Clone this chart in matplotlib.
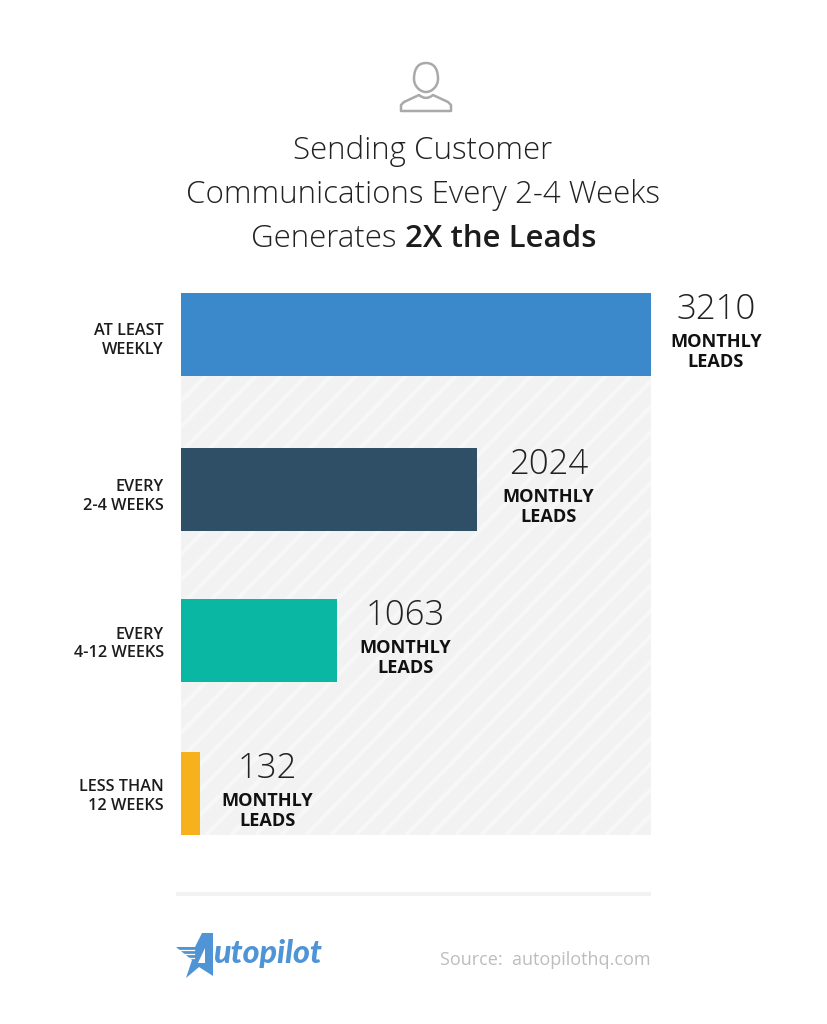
import matplotlib
matplotlib.use('Agg')
import matplotlib.pyplot as plt
from matplotlib.collections import LineCollection
from matplotlib.patches import PathPatch, Polygon
from matplotlib.path import Path

W, H = 827, 1024

categories = ['AT LEAST\nWEEKLY', 'EVERY\n2-4 WEEKS', 'EVERY\n4-12 WEEKS', 'LESS THAN\n12 WEEKS']
leads = [3210, 2024, 1063, 132]
bar_colors = ['#3b89ca', '#2e4f66', '#0ab7a2', '#f6b11c']

# rows are not quite evenly spaced in the original
rows = [0, 1.013, 2, 3]
label_offsets = [65, 71, 69, 67]
cat_shifts = [6, 7, 3.5, 3]

FONT = 'Open Sans'
plt.rcParams['font.family'] = [FONT, 'DejaVu Sans']

fig = plt.figure(figsize=(W / 100, H / 100), dpi=100, facecolor='white')

# overlay in pixel coordinates for the header and footer
bg = fig.add_axes([0, 0, 1, 1])
bg.set_xlim(0, W)
bg.set_ylim(H, 0)
bg.axis('off')

ax = fig.add_axes([181 / W, 1 - 835 / H, 470 / W, 542 / H])
ax.set_facecolor('#f2f2f2')
ax.set_xlim(0, 3210)
ax.set_ylim(3.271, -0.271)
ax.barh(rows, leads, height=0.5425, color=bar_colors, zorder=3)
for s in ax.spines.values():
    s.set_visible(False)
ax.set_xticks([])
ax.set_yticks([])

# pale diagonal stripes behind the bars
stripes = []
for i in range(-24, 42):
    x0 = 181 + i * 25
    stripes.append([(x0, 835), (x0 + 542 * 0.98, 293)])
lc = LineCollection(stripes, colors='#f6f7f7', linewidths=3, transform=bg.transData, zorder=1)
ax.add_collection(lc, autolim=False)
lc.set_clip_path(ax.patch)

for y, cat, val, off, shift in zip(rows, categories, leads, label_offsets, cat_shifts):
    ax.annotate(cat, (0, y), xytext=(-12.4, -shift * 0.72), textcoords='offset points',
                ha='right', va='center', fontsize=11.7, fontweight=600,
                color='#1c1c1c', linespacing=1.2, annotation_clip=False)
    ax.annotate(str(val), (val, y), xytext=(off * 0.72, 18), textcoords='offset points',
                ha='center', va='center', fontsize=25, fontweight=300,
                color='#222222', annotation_clip=False)
    ax.annotate('MONTHLY\nLEADS', (val, y), xytext=(off * 0.72, -12.4), textcoords='offset points',
                ha='center', va='center', fontsize=13.1, fontweight='bold',
                color='#111111', linespacing=1.17, annotation_clip=False)

# title
bg.text(423, 151, 'Sending Customer', ha='center', va='center', fontsize=22.5, fontweight=300, color='#222222')
bg.text(423, 195, 'Communications Every 2-4 Weeks', ha='center', va='center', fontsize=22.5, fontweight=300, color='#222222')
bg.text(405, 239, 'Generates ', ha='right', va='center', fontsize=22.5, fontweight=300, color='#222222')
bg.text(405, 239, '2X the Leads', ha='left', va='center', fontsize=22.5, fontweight=600, color='#1c1c1c')

# person icon
head = Path([(426, 63), (416, 63), (414, 72), (414, 79), (414, 86), (420, 92), (426, 92),
             (432, 92), (438, 86), (438, 79), (438, 72), (436, 63), (426, 63)],
            [Path.MOVETO] + [Path.CURVE4] * 12)
bg.add_patch(PathPatch(head, fc='none', ec='#a9a9a9', lw=1.8))
body = Path([(401, 111), (401, 105), (404, 102), (419, 95), (426, 101), (433, 95),
             (448, 102), (451, 105), (451, 111), (401, 111)],
            [Path.MOVETO, Path.LINETO, Path.LINETO, Path.LINETO, Path.CURVE3, Path.CURVE3,
             Path.LINETO, Path.LINETO, Path.LINETO, Path.CLOSEPOLY])
bg.add_patch(PathPatch(body, fc='none', ec='#a9a9a9', lw=1.8, joinstyle='round'))

# footer
bg.plot([176, 651], [893.5, 893.5], color='#f2f2f2', lw=2.9, solid_capstyle='butt')
bg.text(650.5, 960, 'Source:  autopilothq.com', ha='right', va='center', fontsize=13, color='#bdbdbd')

blue = '#4f94d4'
bg.add_patch(Polygon([(202, 933), (213, 933), (213, 976), (199, 967), (186, 978), (192, 960), (176, 947), (195, 947)],
                     closed=True, fc=blue, ec='none'))
bg.add_patch(Polygon([(205, 948), (205, 963), (198, 963)], closed=True, fc='white', ec='none'))
for y in (950, 954, 958):
    bg.plot([178, 194], [y, y], color='white', lw=0.9)
bg.text(213, 953, 'utopilot', ha='left', va='center', fontsize=23.2, fontweight='black', style='italic',
        family=['Lato', 'Open Sans'], color=blue)

fig.savefig('out.png', dpi=100, facecolor='white')
